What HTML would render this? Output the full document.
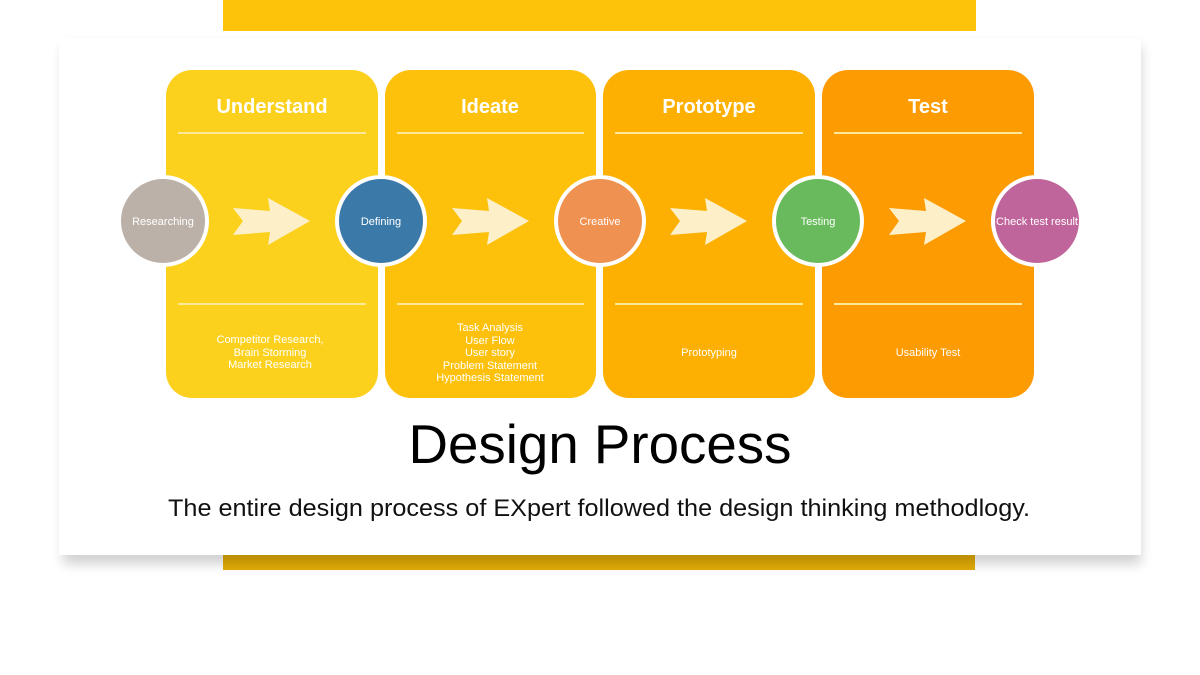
<!DOCTYPE html>
<html><head><meta charset="utf-8"><style>
html,body{margin:0;padding:0;background:#fff;}
body{width:1200px;height:675px;overflow:hidden;position:relative;font-family:"Liberation Sans",Arial,sans-serif;}
</style></head><body>
<svg width="1200" height="675" viewBox="0 0 1200 675" xmlns="http://www.w3.org/2000/svg" style="position:absolute;left:0;top:0">
<defs>
<filter id="sh" x="-5%" y="-5%" width="110%" height="115%"><feGaussianBlur stdDeviation="6"/></filter>
</defs>
<rect x="223" y="0" width="753" height="31" fill="#fdc20a"/>
<rect x="223" y="548" width="752" height="22" fill="#e4ad06"/>
<rect x="63" y="46" width="1078" height="518" fill="#000" opacity="0.18" filter="url(#sh)"/>
<rect x="59" y="38" width="1082" height="517" fill="#fff"/>

<g font-family="Liberation Sans, Arial, sans-serif" text-anchor="middle" fill="#fff">
<rect x="166" y="70" width="212" height="328" rx="26" fill="#fcd11e"/>
<rect x="385" y="70" width="211" height="328" rx="26" fill="#fdc10b"/>
<rect x="603" y="70" width="212" height="328" rx="26" fill="#fdb002"/>
<rect x="822" y="70" width="212" height="328" rx="26" fill="#fd9b02"/>

<g stroke="#fde89a" stroke-width="2">
<line x1="178" y1="133" x2="366" y2="133"/><line x1="397" y1="133" x2="584" y2="133"/>
<line x1="615" y1="133" x2="803" y2="133"/><line x1="834" y1="133" x2="1022" y2="133"/>
<line x1="178" y1="304" x2="366" y2="304"/><line x1="397" y1="304" x2="584" y2="304"/>
<line x1="615" y1="304" x2="803" y2="304"/><line x1="834" y1="304" x2="1022" y2="304"/>
</g>

<g font-size="20" font-weight="bold">
<text x="272" y="113">Understand</text>
<text x="490" y="113">Ideate</text>
<text x="709" y="113">Prototype</text>
<text x="928" y="113">Test</text>
</g>

<g fill="#fdf0c8">
<polygon points="233,208 270,211 268,198 310,221 268,245 270,232 233,235 243,221"/>
<polygon points="452,208 489,211 487,198 529,221 487,245 489,232 452,235 462,221"/>
<polygon points="670,208 707,211 705,198 747,221 705,245 707,232 670,235 680,221"/>
<polygon points="889,208 926,211 924,198 966,221 924,245 926,232 889,235 899,221"/>
</g>

<g stroke="#fff" stroke-width="4">
<circle cx="163" cy="221" r="44" fill="#bcb1a8"/>
<circle cx="381" cy="221" r="44" fill="#3b7aa8"/>
<circle cx="600" cy="221" r="44" fill="#ef9150"/>
<circle cx="818" cy="221" r="44" fill="#68ba5c"/>
<circle cx="1037" cy="221" r="44" fill="#c0659b"/>
</g>
<g font-size="11">
<text x="163" y="225">Researching</text>
<text x="381" y="225">Defining</text>
<text x="600" y="225">Creative</text>
<text x="818" y="225">Testing</text>
<text x="1037" y="225">Check test result</text>
</g>

<g font-size="11">
<text x="270" y="343">Competitor Research,</text>
<text x="270" y="356">Brain Storming</text>
<text x="270" y="368">Market Research</text>
<text x="490" y="331">Task Analysis</text>
<text x="490" y="344">User Flow</text>
<text x="490" y="356">User story</text>
<text x="490" y="369">Problem Statement</text>
<text x="490" y="381">Hypothesis Statement</text>
<text x="709" y="356">Prototyping</text>
<text x="928" y="356">Usability Test</text>
</g>
</g>

<text x="600" y="463" font-family="Liberation Sans, Arial, sans-serif" font-size="55" text-anchor="middle" fill="#000" textLength="383" lengthAdjust="spacingAndGlyphs">Design Process</text>
<text x="599" y="516" font-family="Liberation Sans, Arial, sans-serif" font-size="24.5" text-anchor="middle" fill="#111" textLength="862" lengthAdjust="spacingAndGlyphs">The entire design process of EXpert followed the design thinking methodlogy.</text>
</svg>
</body></html>
